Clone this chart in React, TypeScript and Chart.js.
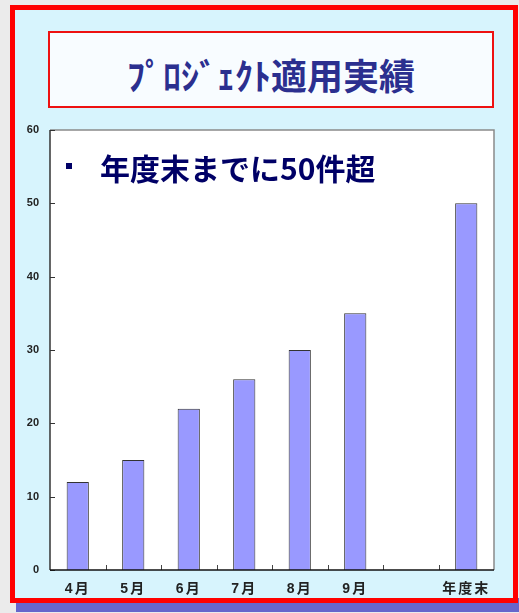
import React, { useEffect, useRef } from 'react';
import { Chart, registerables } from 'chart.js';

Chart.register(...registerables);

const categories = ['4月', '5月', '6月', '7月', '8月', '9月', '', '年度末'];
const projectCounts: (number | null)[] = [12, 15, 22, 26, 30, 35, null, 50];
const yTickValues = [0, 10, 20, 30, 40, 50, 60];
const titleText = 'ﾌﾟﾛｼﾞｪｸﾄ適用実績';
const noteText = '年度末までに50件超';

const framePlugin = {
  id: 'frame',
  beforeDraw(chart: any) {
    const { ctx, chartArea: a } = chart;
    const xs = chart.scales.x;
    if (xs && !xs.__spaced) {
      const orig = xs.drawLabels;
      xs.drawLabels = function (area: any) {
        const c = this.ctx;
        c.save();
        c.letterSpacing = '2px';
        orig.call(this, area);
        c.restore();
      };
      xs.__spaced = true;
    }
    ctx.save();
    ctx.fillStyle = '#ffffff';
    ctx.fillRect(a.left, a.top, a.right - a.left, a.bottom - a.top);
    ctx.restore();
  },
  afterDatasetsDraw(chart: any) {
    const { ctx, chartArea: a, scales } = chart;
    ctx.save();
    ctx.lineWidth = 1.5;
    ctx.strokeStyle = '#8a8a8a';
    ctx.beginPath();
    ctx.moveTo(a.left, a.top);
    ctx.lineTo(a.right, a.top);
    ctx.lineTo(a.right, a.bottom);
    ctx.stroke();
    ctx.strokeStyle = '#333333';
    ctx.beginPath();
    ctx.moveTo(a.left, a.top);
    ctx.lineTo(a.left, a.bottom);
    ctx.stroke();
    ctx.lineWidth = 1;
    yTickValues.forEach((v) => {
      const y = Math.round(scales.y.getPixelForValue(v)) + 0.5;
      ctx.beginPath();
      ctx.moveTo(a.left, y);
      ctx.lineTo(a.left + 5, y);
      ctx.stroke();
    });
    ctx.strokeStyle = '#444444';
    for (let k = 1; k < categories.length; k++) {
      const x = Math.round((scales.x.getPixelForValue(k - 1) + scales.x.getPixelForValue(k)) / 2) + 0.5;
      ctx.beginPath();
      ctx.moveTo(x, a.bottom);
      ctx.lineTo(x, a.bottom - 5);
      ctx.stroke();
    }
    ctx.lineWidth = 1.5;
    ctx.strokeStyle = '#111111';
    ctx.beginPath();
    ctx.moveTo(a.left, a.bottom);
    ctx.lineTo(a.right, a.bottom);
    ctx.stroke();
    ctx.restore();
  },
};

export default function App() {
  const canvasRef = useRef<HTMLCanvasElement | null>(null);

  useEffect(() => {
    if (!canvasRef.current) return;
    const chart = new Chart(canvasRef.current, {
      type: 'bar',
      data: {
        labels: categories,
        datasets: [
          {
            data: projectCounts,
            backgroundColor: '#9999ff',
            borderColor: '#333333',
            borderWidth: 1,
            barPercentage: 0.4,
            categoryPercentage: 1,
          },
        ],
      },
      options: {
        responsive: false,
        animation: false,
        devicePixelRatio: 1,
        layout: { padding: { left: 0, top: 20, right: 19, bottom: 0 } },
        plugins: {
          legend: { display: false },
          tooltip: { enabled: false },
          title: { display: false },
        },
        scales: {
          x: {
            offset: true,
            grid: { display: false, drawTicks: false },
            border: { display: false },
            ticks: {
              color: '#222222',
              padding: 11,
              maxRotation: 0,
              autoSkip: false,
              font: { family: "'Liberation Sans', 'Noto Sans CJK JP', sans-serif", size: 14, weight: 'bold' },
            },
            afterFit: (s: any) => {
              s.height = 28;
            },
          },
          y: {
            min: 0,
            max: 60,
            grid: { display: false, drawTicks: false },
            border: { display: false },
            ticks: {
              stepSize: 10,
              color: '#222222',
              padding: 11,
              font: { family: "'Liberation Sans', Arial, sans-serif", size: 11, weight: 'bold' },
            },
            afterFit: (s: any) => {
              s.width = 35;
            },
          },
        },
      },
      plugins: [framePlugin],
    });
    return () => chart.destroy();
  }, []);

  return (
    <div
      style={{
        position: 'fixed',
        left: 0,
        top: 0,
        width: 519,
        height: 613,
        background: '#ebebeb',
        overflow: 'hidden',
      }}
    >
      <div style={{ position: 'absolute', left: 16, top: 598, width: 503, height: 14, background: '#6666cc' }} />
      <div
        style={{
          position: 'absolute',
          left: 10,
          top: 5,
          width: 508,
          height: 598,
          boxSizing: 'border-box',
          border: '5px solid #ff0000',
          background: '#d7f4fd',
        }}
      />
      <div
        style={{
          position: 'absolute',
          left: 48,
          top: 31,
          width: 446,
          height: 77,
          boxSizing: 'border-box',
          border: '2px solid #ee1111',
          background: '#f8fcff',
        }}
      />
      <div
        style={{
          position: 'absolute',
          left: 48,
          top: 56,
          width: 446,
          height: 36,
          lineHeight: '36px',
          textAlign: 'center',
          fontFamily: "'Noto Sans CJK JP', sans-serif",
          fontWeight: 700,
          fontSize: 36,
          color: '#2b2f8f',
          whiteSpace: 'nowrap',
        }}
      >
        {titleText}
      </div>
      <canvas
        ref={canvasRef}
        width={498}
        height={488}
        style={{ position: 'absolute', left: 15, top: 110, width: 498, height: 488 }}
      />
      <div style={{ position: 'absolute', left: 66, top: 163, width: 6, height: 6, background: '#000066' }} />
      <div
        style={{
          position: 'absolute',
          left: 100,
          top: 152,
          height: 30,
          lineHeight: '30px',
          fontFamily: "'Noto Sans CJK JP', sans-serif",
          fontWeight: 700,
          fontSize: 30,
          color: '#000066',
          whiteSpace: 'nowrap',
        }}
      >
        {noteText}
      </div>
    </div>
  );
}
